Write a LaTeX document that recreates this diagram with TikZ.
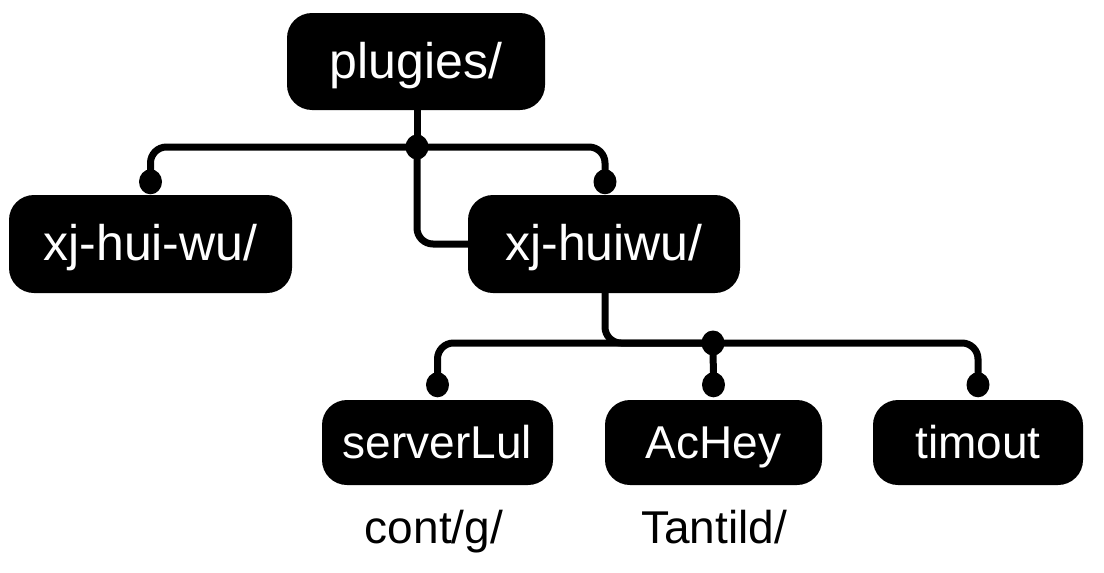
\documentclass[tikz,border=0pt]{standalone}
\usepackage{fontspec}
\setmainfont{Liberation Sans}
\begin{document}
\begin{tikzpicture}[x=1pt,y=-1pt,
  dirbox/.style={fill=black, text=white, rounded corners=25pt, inner sep=0pt,
    font=\fontsize{50}{55}\selectfont, text height=36pt, text depth=3pt},
  leafbox/.style={dirbox, font=\fontsize{46}{50}\selectfont, text height=33pt, text depth=2pt},
  conn/.style={line width=7pt, rounded corners=16pt},
  dot/.style={fill=black},
  lbl/.style={anchor=base, inner sep=0pt, font=\fontsize{46}{50}\selectfont}]
\useasboundingbox (0,0) rectangle (1104,573);
\fill[white] (0,0) rectangle (1104,573);

% nodes
\node[dirbox, minimum width=258pt, minimum height=97pt] (root) at (416,61.5) {plugies/};
\node[dirbox, minimum width=283pt, minimum height=98pt] (a) at (150.5,244) {xj-hui-wu/};
\node[dirbox, minimum width=272pt, minimum height=98pt] (b) at (604,244) {xj-huiwu/};
\node[leafbox, minimum width=231pt, minimum height=85pt] (c1) at (437.5,442.5) {serverLul};
\node[leafbox, minimum width=217pt, minimum height=85pt] (c2) at (713.5,442.5) {AcHey};
\node[leafbox, minimum width=210pt, minimum height=85pt] (c3) at (978,442.5) {timout};
\node[lbl] (l1) at (434,543) {cont/g/};
\node[lbl] (l2) at (714,543) {Tantild/};

% junctions and connector ends (yshift is in page direction: positive = up)
\coordinate (j1) at (417,147);
\coordinate (d1) at ([yshift=13pt]a.north);
\coordinate (d2) at ([xshift=1pt,yshift=13pt]b.north);
\coordinate (j2) at (713,343);
\coordinate (e1) at ([yshift=15pt]c1.north);
\coordinate (e2) at ([yshift=15pt]c2.north);
\coordinate (e3) at ([yshift=15pt]c3.north);

% level 1
\draw[conn] (root.south -| j1) -- (j1);
\draw[conn] (d1) -- (d1 |- j1) -- (d2 |- j1) -- (d2);
\draw[conn] (j1) |- (b.west);
% level 2
\draw[conn] ([xshift=1pt]b.south) |- (j2);
\draw[conn] (e1) -- (e1 |- j2) -- (e3 |- j2) -- (e3);
\draw[conn] (j2) -- (e2);

% dots
\foreach \p in {j1,d1,d2,j2,e1,e2,e3}
  \fill[dot] (\p) ellipse [x radius=11.5pt, y radius=12.5pt];
\end{tikzpicture}
\end{document}
